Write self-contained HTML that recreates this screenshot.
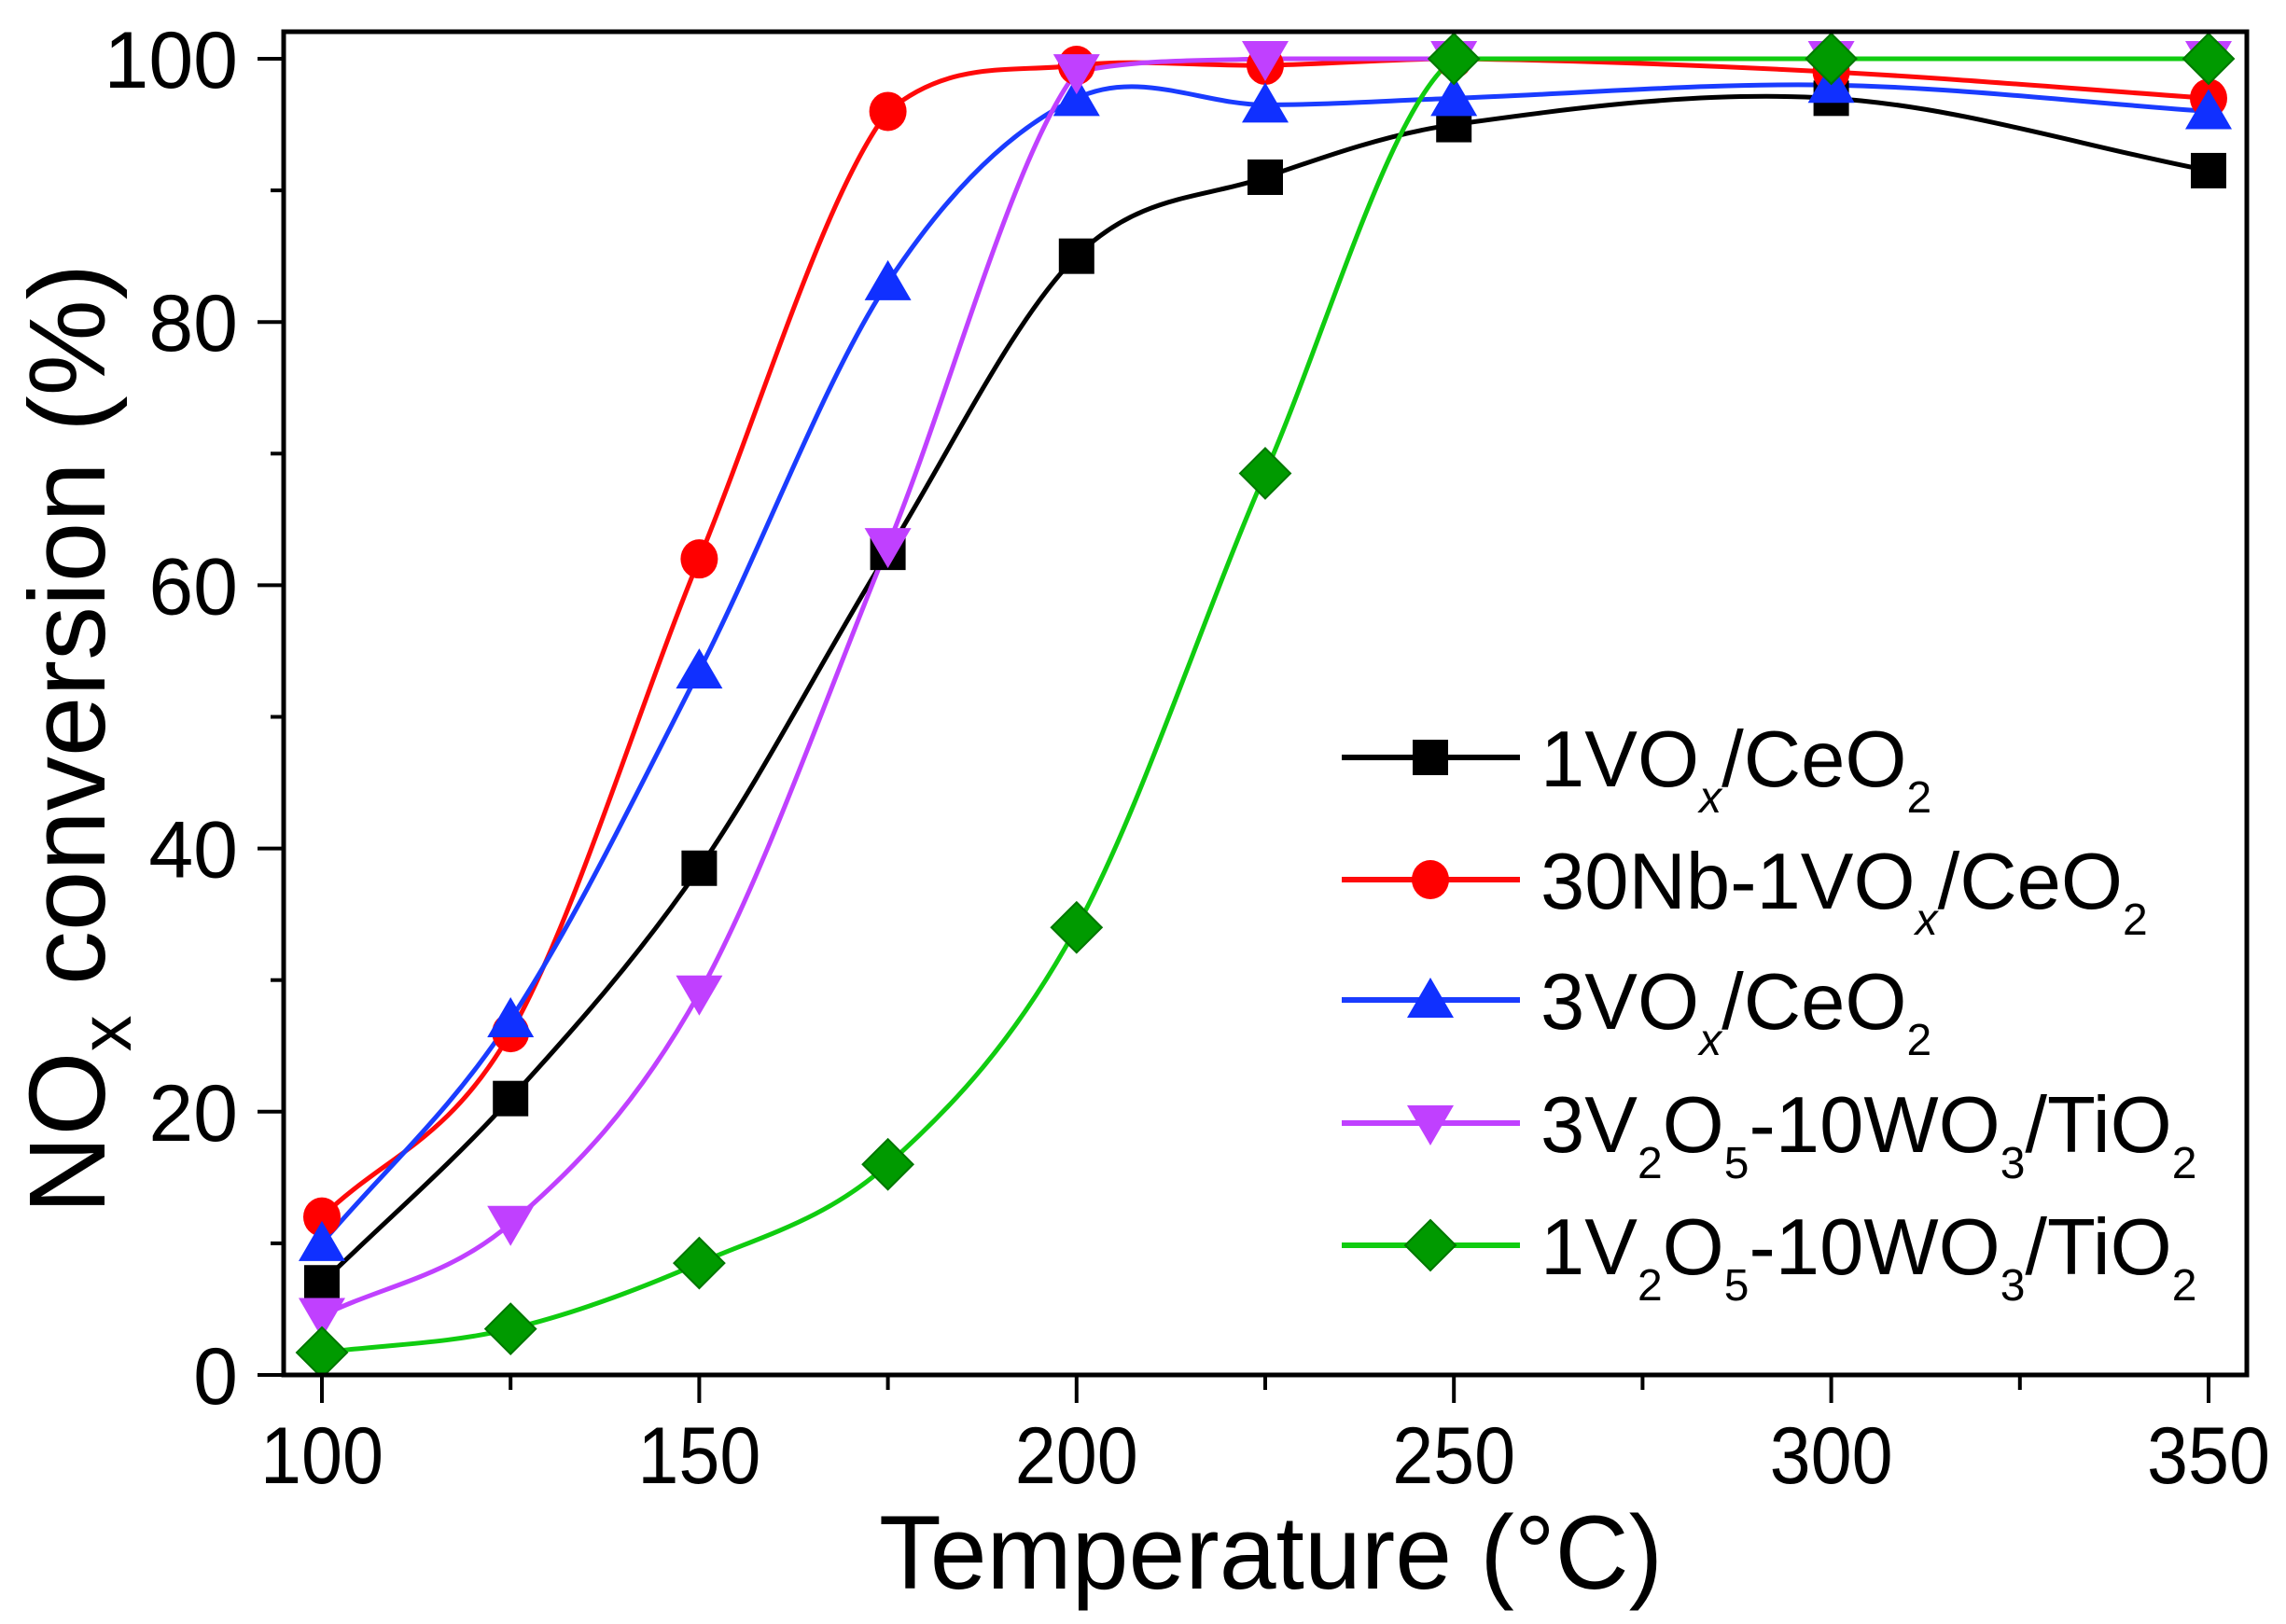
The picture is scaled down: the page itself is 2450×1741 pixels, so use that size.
<!DOCTYPE html>
<html><head><meta charset="utf-8">
<style>
html,body{margin:0;padding:0;background:#fff;}
svg{display:block;font-family:"Liberation Sans",Arial,sans-serif;}
</style></head>
<body>
<svg id="chart" width="2450" height="1741" viewBox="0 0 2450 1741" xmlns="http://www.w3.org/2000/svg">
<rect x="0" y="0" width="2450" height="1741" fill="#fff"/>
<g id="plot"></g>
<g id="axes"></g>
<g id="legend"></g>
<text x="1362" y="1703" font-size="112" text-anchor="middle" fill="#000" textLength="840" lengthAdjust="spacingAndGlyphs">Temperature (°C)</text>
<text transform="translate(112,792) rotate(-90)" font-size="116" text-anchor="middle" fill="#000">NO<tspan font-size="78" dy="28">x</tspan><tspan dy="-28"> conversion (%)</tspan></text>
</svg>
<script>
const temps = [100,125,150,175,200,225,250,300,350];
const s1VOx = [7,21,38.5,62.5,85,91,95,97,91.5];
const s30Nb = [12,26,62,96,99.5,99.5,100,99,97];
const s3VOx = [10,27,53.5,83,97,96.5,97,98,96];
const s3V2O5 = [4.5,11.5,29,63,99,100,100,100,100];
const s1V2O5 = [1.7,3.5,8.5,16,34,68.5,100,100,100];
const xTicks = [100,150,200,250,300,350];
const yTicks = [0,20,40,60,80,100];

const NS='http://www.w3.org/2000/svg';
const L=304,R=2408,T=34,B=1474;
function xs(v){return 345+(v-100)*(2367-345)/250;}
function ys(v){return 1474-v*(1474-63)/100;}
function mk(tag,attrs,parent){const e=document.createElementNS(NS,tag);for(const k in attrs)e.setAttribute(k,attrs[k]);parent.appendChild(e);return e;}

const plot=document.getElementById('plot');
const axes=document.getElementById('axes');
const legend=document.getElementById('legend');

function smoothPath(xv,yv){
  const P=xv.map((x,i)=>[xs(x),ys(yv[i])]);
  const n=P.length;const m=[];
  for(let i=0;i<n;i++){
    const a=P[Math.max(0,i-1)],b=P[Math.min(n-1,i+1)];
    m[i]=(b[1]-a[1])/(b[0]-a[0]);
  }
  const yTop=ys(100);
  let p='M'+P[0][0]+','+P[0][1];
  for(let i=0;i<n-1;i++){const h=(P[i+1][0]-P[i][0])/3;
    let c1=P[i][1]+m[i]*h, c2=P[i+1][1]-m[i+1]*h;
    c1=Math.max(c1,yTop); c2=Math.max(c2,yTop);
    p+=' C'+(P[i][0]+h)+','+c1+' '+(P[i+1][0]-h)+','+c2+' '+P[i+1][0]+','+P[i+1][1];}
  return p;
}
function marker(type,cx,cy,fill,parent,name){
  let e;const r=19;
  if(type==='square')e=mk('rect',{x:cx-r,y:cy-r,width:2*r,height:2*r,fill:fill},parent);
  else if(type==='circle')e=mk('ellipse',{cx:cx,cy:cy,rx:r+1,ry:r+2,fill:fill},parent);
  else if(type==='up')e=mk('polygon',{points:(cx)+','+(cy-24)+' '+(cx+25)+','+(cy+19)+' '+(cx-25)+','+(cy+19),fill:fill},parent);
  else if(type==='down')e=mk('polygon',{points:(cx)+','+(cy+24)+' '+(cx+25)+','+(cy-19)+' '+(cx-25)+','+(cy-19),fill:fill},parent);
  else e=mk('polygon',{points:(cx)+','+(cy-27)+' '+(cx+27)+','+(cy)+' '+(cx)+','+(cy+27)+' '+(cx-27)+','+(cy),fill:fill,stroke:'#007700','stroke-width':2},parent);
  
  
}
const series=[
 {name:'1vox-ceo2',vals:s1VOx,line:'#000',fill:'#000',m:'square'},
 {name:'30nb-1vox-ceo2',vals:s30Nb,line:'#ff0a0a',fill:'#ff0000',m:'circle'},
 {name:'3vox-ceo2',vals:s3VOx,line:'#1a3cff',fill:'#1030ff',m:'up'},
 {name:'3v2o5-10wo3-tio2',vals:s3V2O5,line:'#c040ff',fill:'#c040ff',m:'down'},
 {name:'1v2o5-10wo3-tio2',vals:s1V2O5,line:'#10cc10',fill:'#009a00',m:'diamond'}
];
series.forEach(s=>{
  const g=mk('g',{},plot);
  
  
  const p=mk('path',{d:smoothPath(temps,s.vals),fill:'none',stroke:s.line,'stroke-width':5},g);
  
  
});
series.forEach(s=>{
  temps.forEach((t,i)=>marker(s.m,xs(t),ys(s.vals[i]),s.fill,plot,'point-'+s.name));
});

const fr=mk('rect',{x:L,y:T,width:R-L,height:B-T,fill:'none',stroke:'#000','stroke-width':5},axes);


for(let v=100;v<=350;v+=25){
  const major=(v%50===0);
  const t=mk('line',{x1:xs(v),x2:xs(v),y1:B,y2:B+(major?30:16),stroke:'#000','stroke-width':4},axes);
  
  
}
xTicks.forEach(v=>{
  const t=mk('text',{x:xs(v),y:1590,'font-size':86,'text-anchor':'middle',fill:'#000',textLength:132,lengthAdjust:'spacingAndGlyphs'},axes);
  t.textContent=v;
  
  
});
for(let v=0;v<=100;v+=10){
  const major=(v%20===0);
  const t=mk('line',{x1:L,x2:L-(major?28:14),y1:ys(v),y2:ys(v),stroke:'#000','stroke-width':4},axes);
  
  
}
yTicks.forEach(v=>{
  const t=mk('text',{x:255,y:ys(v)+31,'font-size':86,'text-anchor':'end',fill:'#000'},axes);
  t.textContent=v;
  
  
});

const labels=[
 ['1VO',['x',1],'/CeO',['2',0]],
 ['30Nb-1VO',['x',1],'/CeO',['2',0]],
 ['3VO',['x',1],'/CeO',['2',0]],
 ['3V',['2',0],'O',['5',0],'-10WO',['3',0],'/TiO',['2',0]],
 ['1V',['2',0],'O',['5',0],'-10WO',['3',0],'/TiO',['2',0]]
];
const rowY=[812,943,1072,1204,1335];
series.forEach((s,i)=>{
  const g=mk('g',{},legend);
  
  
  const ln=mk('line',{x1:1438,x2:1629,y1:rowY[i],y2:rowY[i],stroke:s.line,'stroke-width':6},g);
  
  
  marker(s.m,1533,rowY[i],s.fill,g,'legend-marker');
  const tx=mk('text',{x:1651,y:rowY[i]+31,'font-size':85,fill:'#000'},g);
  
  
  let inSub=false;
  labels[i].forEach(part=>{
    const ts=document.createElementNS(NS,'tspan');
    if(Array.isArray(part)){
      ts.textContent=part[0];ts.setAttribute('font-size','48');
      if(part[1])ts.setAttribute('font-style','italic');
      ts.setAttribute('dy',inSub?'0':'28');inSub=true;
    } else {
      ts.textContent=part;
      if(inSub){ts.setAttribute('dy','-28');inSub=false;}
    }
    tx.appendChild(ts);
  });
});
</script>
</body></html>
